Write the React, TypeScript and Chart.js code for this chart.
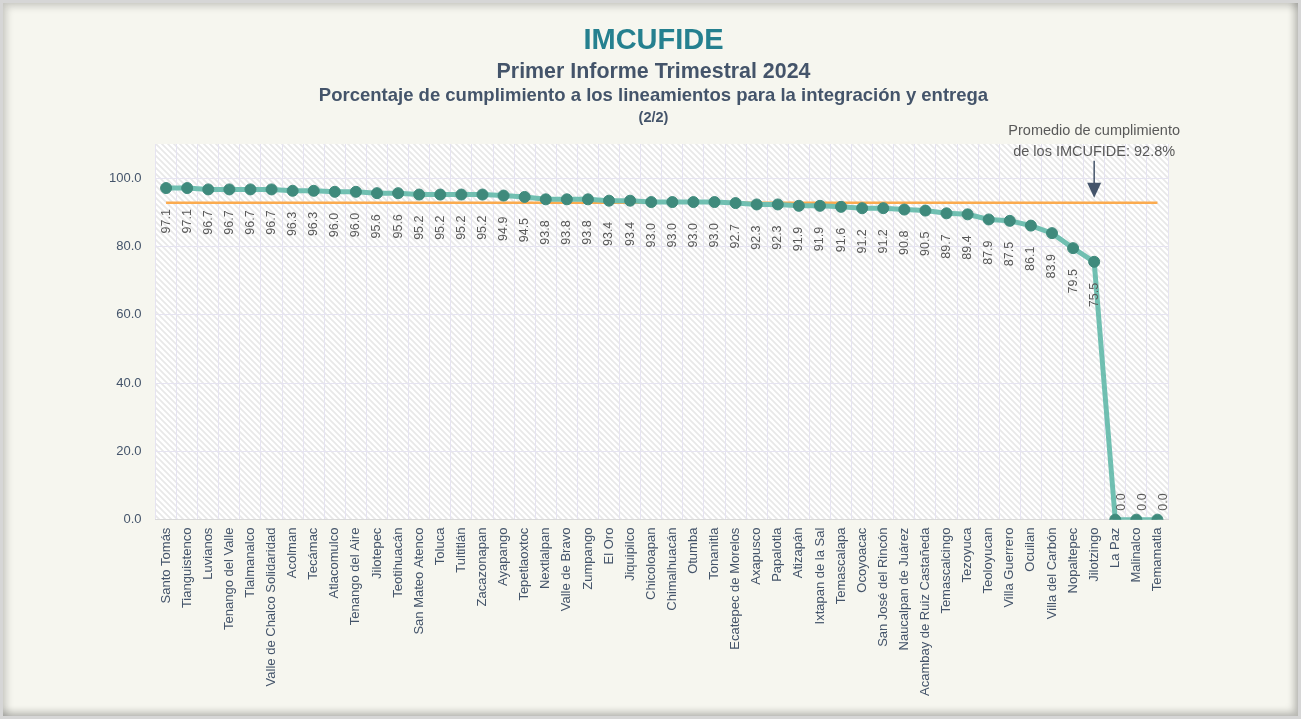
import React, { useEffect, useRef } from "react";
import { Chart, registerables } from "chart.js";

Chart.register(...registerables);

const categories: string[] = [
  "Santo Tomás", "Tianguistenco", "Luvianos", "Tenango del Valle", "Tlalmanalco",
  "Valle de Chalco Solidaridad", "Acolman", "Tecámac", "Atlacomulco", "Tenango del Aire",
  "Jilotepec", "Teotihuacán", "San Mateo Atenco", "Toluca", "Tultitlán", "Zacazonapan",
  "Ayapango", "Tepetlaoxtoc", "Nextlalpan", "Valle de Bravo", "Zumpango", "El Oro",
  "Jiquipilco", "Chicoloapan", "Chimalhuacán", "Otumba", "Tonanitla", "Ecatepec de Morelos",
  "Axapusco", "Papalotla", "Atizapán", "Ixtapan de la Sal", "Temascalapa", "Ocoyoacac",
  "San José del Rincón", "Naucalpan de Juárez", "Acambay de Ruiz Castañeda", "Temascalcingo",
  "Tezoyuca", "Teoloyucan", "Villa Guerrero", "Ocuilan", "Villa del Carbón", "Nopaltepec",
  "Jilotzingo", "La Paz", "Malinalco", "Temamatla",
];

const values: number[] = [
  97.1, 97.1, 96.7, 96.7, 96.7, 96.7, 96.3, 96.3, 96.0, 96.0,
  95.6, 95.6, 95.2, 95.2, 95.2, 95.2, 94.9, 94.5, 93.8, 93.8,
  93.8, 93.4, 93.4, 93.0, 93.0, 93.0, 93.0, 92.7, 92.3, 92.3,
  91.9, 91.9, 91.6, 91.2, 91.2, 90.8, 90.5, 89.7, 89.4, 87.9,
  87.5, 86.1, 83.9, 79.5, 75.5, 0.0, 0.0, 0.0,
];

const yTickValues: number[] = [0, 20, 40, 60, 80, 100];
const AVERAGE = 92.8;
const ARROW_CATEGORY = "Jilotzingo";
const annotationLines: string[] = ["Promedio de cumplimiento", "de los IMCUFIDE: 92.8%"];

const titleMain = "IMCUFIDE";
const subtitleLines: string[] = [
  "Primer Informe Trimestral 2024",
  "Porcentaje de cumplimiento a los lineamientos para la integración y entrega",
  "(2/2)",
];

const FONT = "Arial, 'Liberation Sans', sans-serif";

function makePattern(ctx: CanvasRenderingContext2D): CanvasPattern | string {
  const c = document.createElement("canvas");
  const s = 6;
  c.width = s;
  c.height = s;
  const p = c.getContext("2d");
  if (!p) return "#ffffff";
  p.fillStyle = "#ffffff";
  p.fillRect(0, 0, s, s);
  p.strokeStyle = "#e8e8e8";
  p.lineWidth = 1.7;
  p.beginPath();
  p.moveTo(-1, -1);
  p.lineTo(s + 1, s + 1);
  p.moveTo(-1, s - 1);
  p.lineTo(1, s + 1);
  p.moveTo(s - 1, -1);
  p.lineTo(s + 1, 1);
  p.stroke();
  return ctx.createPattern(c, "repeat") || "#ffffff";
}

const decorPlugin = {
  id: "decor",
  beforeDraw(chart: any) {
    const { ctx, chartArea } = chart;
    ctx.save();
    ctx.fillStyle = makePattern(ctx);
    ctx.fillRect(chartArea.left, chartArea.top, chartArea.right - chartArea.left, chartArea.bottom - chartArea.top);
    ctx.restore();

    // titles
    const cx = chart.width / 2 + 3;
    ctx.save();
    ctx.textAlign = "center";
    ctx.textBaseline = "middle";
    ctx.fillStyle = "#25808f";
    ctx.font = `bold 29px ${FONT}`;
    ctx.fillText(titleMain, cx, 41);
    ctx.fillStyle = "#44546a";
    ctx.font = `bold 21.4px ${FONT}`;
    ctx.fillText(subtitleLines[0], cx, 72.5);
    ctx.font = `bold 18.5px ${FONT}`;
    ctx.fillText(subtitleLines[1], cx, 96);
    ctx.font = `bold 14.5px ${FONT}`;
    ctx.fillText(subtitleLines[2], cx, 118);
    ctx.restore();
  },
  beforeDatasetsDraw(chart: any) {
    const { ctx } = chart;
    const xs = chart.scales.x;
    const ys = chart.scales.y;
    const y = ys.getPixelForValue(AVERAGE);
    ctx.save();
    ctx.strokeStyle = "#fbab4f";
    ctx.lineWidth = 2.5;
    ctx.beginPath();
    ctx.moveTo(xs.getPixelForValue(0), y);
    ctx.lineTo(xs.getPixelForValue(categories.length - 1), y);
    ctx.stroke();
    ctx.restore();
  },
  afterDatasetsDraw(chart: any) {
    const { ctx } = chart;
    const meta = chart.getDatasetMeta(0);
    ctx.save();
    ctx.font = `12.5px ${FONT}`;
    ctx.fillStyle = "#595959";
    ctx.textBaseline = "middle";
    meta.data.forEach((pt: any, i: number) => {
      const v = values[i];
      const text = v.toFixed(1);
      ctx.save();
      ctx.translate(pt.x, pt.y);
      ctx.rotate(-Math.PI / 2);
      if (v > 1) {
        ctx.textAlign = "right";
        ctx.fillText(text, -21, 0);
      } else {
        ctx.textAlign = "left";
        ctx.fillText(text, 9, 6);
      }
      ctx.restore();
    });
    ctx.restore();

    // annotation
    const xs = chart.scales.x;
    const ys = chart.scales.y;
    const ax = xs.getPixelForValue(categories.indexOf(ARROW_CATEGORY));
    const tipY = ys.getPixelForValue(AVERAGE) - 5;
    ctx.save();
    ctx.fillStyle = "#595959";
    ctx.font = `14.5px ${FONT}`;
    ctx.textAlign = "center";
    ctx.textBaseline = "middle";
    ctx.fillText(annotationLines[0], ax, tipY - 67);
    ctx.fillText(annotationLines[1], ax, tipY - 46);
    ctx.strokeStyle = "#44546a";
    ctx.fillStyle = "#44546a";
    ctx.lineWidth = 1.5;
    ctx.beginPath();
    ctx.moveTo(ax, tipY - 37);
    ctx.lineTo(ax, tipY - 12);
    ctx.stroke();
    ctx.beginPath();
    ctx.moveTo(ax - 7, tipY - 15);
    ctx.lineTo(ax + 7, tipY - 15);
    ctx.lineTo(ax, tipY);
    ctx.closePath();
    ctx.fill();
    ctx.restore();
  },
};

export default function App() {
  const ref = useRef<HTMLCanvasElement | null>(null);

  useEffect(() => {
    document.body.style.margin = "0";
    if (!ref.current) return;
    const chart = new Chart(ref.current, {
      type: "line",
      data: {
        labels: categories,
        datasets: [
          {
            data: values,
            borderColor: "#70bfb1",
            borderWidth: 5,
            pointRadius: 5.5,
            pointBackgroundColor: "#3f8a7c",
            pointBorderColor: "#3f8a7c",
            pointBorderWidth: 1,
            tension: 0,
            fill: false,
          },
        ],
      },
      options: {
        animation: false,
        responsive: false,
        devicePixelRatio: 1,
        layout: { padding: { top: 144, left: 95, right: 133, bottom: 15 } },
        plugins: {
          legend: { display: false },
          title: { display: false },
          tooltip: { enabled: false },
        },
        scales: {
          x: {
            offset: true,
            grid: { color: "#e6e4f1", offset: true, drawTicks: false },
            border: { color: "#d9d9d9", width: 1 },
            ticks: {
              autoSkip: false,
              minRotation: 90,
              maxRotation: 90,
              padding: 8,
              color: "#44546a",
              font: { family: FONT, size: 13 },
            },
          },
          y: {
            min: 0,
            max: 110,
            grid: { color: "#e6e4f1", drawTicks: false },
            border: { display: false },
            afterBuildTicks: (scale: any) => {
              scale.ticks = yTickValues.map((v) => ({ value: v }));
            },
            ticks: {
              padding: 14,
              color: "#44546a",
              font: { family: FONT, size: 13 },
              callback: (v: any) => Number(v).toFixed(1),
            },
          },
        },
      },
      plugins: [decorPlugin],
    });
    return () => chart.destroy();
  }, []);

  return (
    <div style={{ position: "relative", width: 1301, height: 719, overflow: "hidden" }}>
      <div
        style={{
          position: "absolute",
          left: 0,
          top: 0,
          width: 1301,
          height: 719,
          boxSizing: "border-box",
          background: "#f6f6ef",
          border: "3px solid #d6d6d6",
          boxShadow: "inset 4px 4px 7px rgba(0,0,0,0.16), inset -4px -4px 7px rgba(0,0,0,0.24)",
        }}
      />
      <canvas
        ref={ref}
        width={1301}
        height={719}
        style={{ position: "absolute", left: 0, top: 0, width: 1301, height: 719 }}
      />
    </div>
  );
}
